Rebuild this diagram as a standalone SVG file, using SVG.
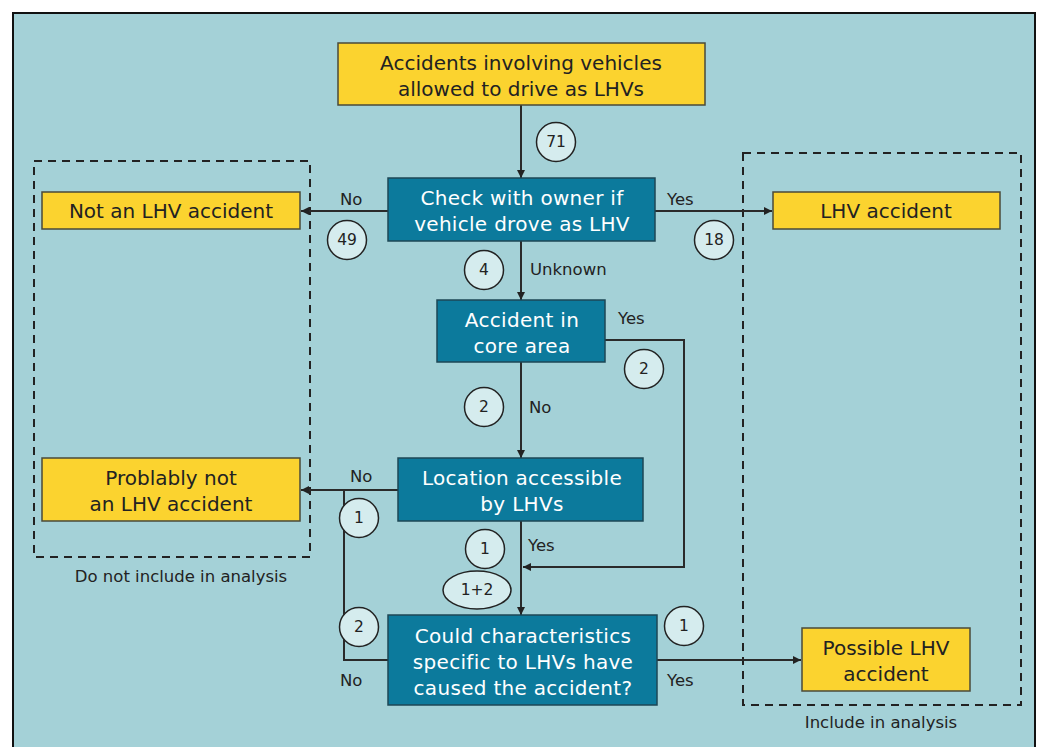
<svg xmlns="http://www.w3.org/2000/svg" width="1040" height="747" viewBox="0 0 1040 747">
<defs>
<marker id="ah" viewBox="0 0 10 10" refX="10" refY="5" markerWidth="8" markerHeight="8" orient="auto" markerUnits="userSpaceOnUse"><path d="M0,0 L10,5 L0,10 z" fill="#222"/></marker>
<style>
.bg{fill:#a4d1d7}
.y{fill:#fbd32f;stroke:#4a4a3a;stroke-width:1.5}
.t{fill:#0c7a9c;stroke:#1d4756;stroke-width:1.5}
.ty{font-family:"DejaVu Sans",Verdana,sans-serif;font-size:20px;fill:#222;text-anchor:middle}
.tw{font-family:"DejaVu Sans",Verdana,sans-serif;font-size:20px;letter-spacing:0.3px;fill:#fff;text-anchor:middle}
.lb{font-family:"DejaVu Sans",Verdana,sans-serif;font-size:16.5px;fill:#222}
.cn{fill:none;stroke:#2a2a2a;stroke-width:2}
.ds{fill:none;stroke:#222;stroke-width:2;stroke-dasharray:8,6}
.c{fill:#d5ecee;stroke:#222;stroke-width:1.5}
.ct{font-family:"DejaVu Sans",Verdana,sans-serif;font-size:15.5px;fill:#222;text-anchor:middle}
</style>
</defs>
<rect x="0" y="0" width="1040" height="747" fill="#fff"/>
<rect class="bg" x="13" y="13" width="1022" height="745" stroke="#111" stroke-width="2"/>

<g id="regions">
<rect class="ds" x="34" y="161" width="276" height="396"/>
<rect class="ds" x="743" y="153" width="278" height="552"/>
<text class="lb" x="181" y="582" text-anchor="middle" font-size="17.5">Do not include in analysis</text>
<text class="lb" x="881" y="728" text-anchor="middle" font-size="17.5">Include in analysis</text>
</g>

<g id="connectors">
<line class="cn" x1="521" y1="105" x2="521" y2="178" marker-end="url(#ah)"/>
<line class="cn" x1="388" y1="211" x2="301" y2="211" marker-end="url(#ah)"/>
<line class="cn" x1="655" y1="211" x2="772" y2="211" marker-end="url(#ah)"/>
<line class="cn" x1="521" y1="241" x2="521" y2="300" marker-end="url(#ah)"/>
<line class="cn" x1="521" y1="362" x2="521" y2="458" marker-end="url(#ah)"/>
<polyline class="cn" points="605,340 684,340 684,567 523,567" marker-end="url(#ah)"/>
<line class="cn" x1="398" y1="490" x2="301" y2="490" marker-end="url(#ah)"/>
<polyline class="cn" points="388,660 344,660 344,490"/>
<line class="cn" x1="521" y1="521" x2="521" y2="615" marker-end="url(#ah)"/>
<line class="cn" x1="657" y1="660" x2="801" y2="660" marker-end="url(#ah)"/>
<text class="lb" x="340" y="205">No</text>
<text class="lb" x="667" y="205">Yes</text>
<text class="lb" x="530" y="275">Unknown</text>
<text class="lb" x="618" y="324">Yes</text>
<text class="lb" x="529" y="413">No</text>
<text class="lb" x="350" y="482">No</text>
<text class="lb" x="528" y="551">Yes</text>
<text class="lb" x="340" y="686">No</text>
<text class="lb" x="667" y="686">Yes</text>
<circle class="c" cx="556" cy="142" r="19.5"/><text class="ct" x="556" y="147">71</text>
<circle class="c" cx="347" cy="240" r="19.5"/><text class="ct" x="347" y="245">49</text>
<circle class="c" cx="714" cy="240" r="19.5"/><text class="ct" x="714" y="245">18</text>
<circle class="c" cx="484" cy="270" r="19.5"/><text class="ct" x="484" y="275">4</text>
<circle class="c" cx="644" cy="369" r="19.5"/><text class="ct" x="644" y="374">2</text>
<circle class="c" cx="484" cy="407" r="19.5"/><text class="ct" x="484" y="412">2</text>
<circle class="c" cx="359" cy="518" r="19.5"/><text class="ct" x="359" y="523">1</text>
<circle class="c" cx="485" cy="549" r="19.5"/><text class="ct" x="485" y="554">1</text>
<ellipse class="c" cx="477" cy="590" rx="34" ry="19"/><text class="ct" x="477" y="595">1+2</text>
<circle class="c" cx="359" cy="627" r="19.5"/><text class="ct" x="359" y="632">2</text>
<circle class="c" cx="684" cy="626" r="19.5"/><text class="ct" x="684" y="631">1</text>
</g>

<g id="n_start">
<rect class="y" x="338" y="43" width="367" height="62"/>
<text class="ty" x="521" y="70">Accidents involving vehicles</text>
<text class="ty" x="521" y="96">allowed to drive as LHVs</text>
</g>
<g id="n_check">
<rect class="t" x="388" y="178" width="267" height="63"/>
<text class="tw" x="522" y="205">Check with owner if</text>
<text class="tw" x="522" y="231">vehicle drove as LHV</text>
</g>
<g id="n_not">
<rect class="y" x="42" y="192" width="258" height="37"/>
<text class="ty" x="171" y="218">Not an LHV accident</text>
</g>
<g id="n_lhv">
<rect class="y" x="773" y="192" width="227" height="37"/>
<text class="ty" x="886" y="218">LHV accident</text>
</g>
<g id="n_core">
<rect class="t" x="437" y="300" width="168" height="62"/>
<text class="tw" x="522" y="327">Accident in</text>
<text class="tw" x="522" y="353">core area</text>
</g>
<g id="n_loc">
<rect class="t" x="398" y="458" width="245" height="63"/>
<text class="tw" x="522" y="485">Location accessible</text>
<text class="tw" x="522" y="511">by LHVs</text>
</g>
<g id="n_prob">
<rect class="y" x="42" y="458" width="258" height="63"/>
<text class="ty" x="171" y="485">Problably not</text>
<text class="ty" x="171" y="511">an LHV accident</text>
</g>
<g id="n_could">
<rect class="t" x="388" y="615" width="269" height="90"/>
<text class="tw" x="523" y="643">Could characteristics</text>
<text class="tw" x="523" y="669">specific to LHVs have</text>
<text class="tw" x="523" y="695">caused the accident?</text>
</g>
<g id="n_poss">
<rect class="y" x="802" y="628" width="168" height="63"/>
<text class="ty" x="886" y="655">Possible LHV</text>
<text class="ty" x="886" y="681">accident</text>
</g>
</svg>
